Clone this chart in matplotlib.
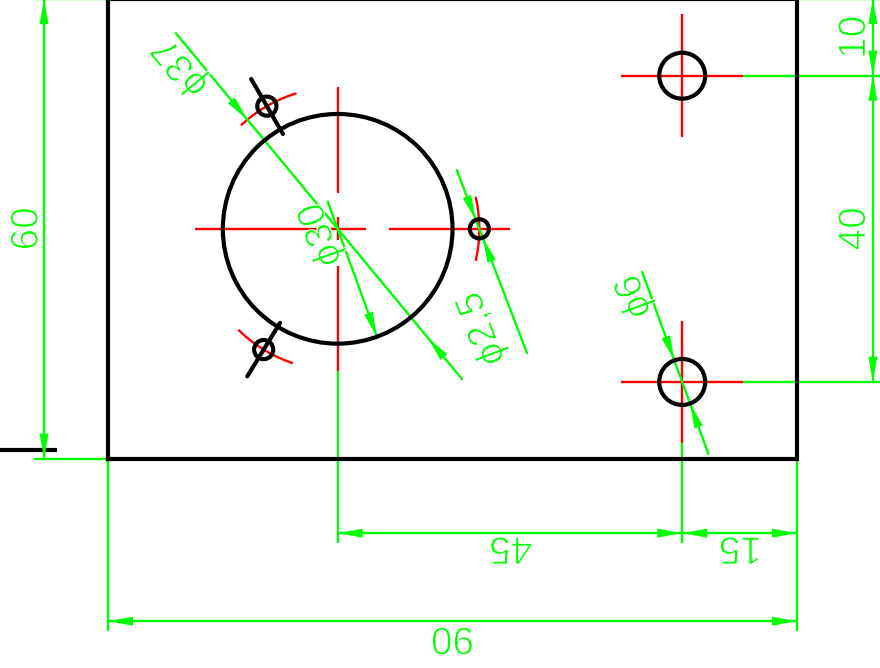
"""Sheet metal plate drawing with holes and dimensions (all sizes in drawing units)."""
import math
from matplotlib import pyplot as plt
from matplotlib import patheffects
from matplotlib.patches import Circle, Polygon

# plate size
plate_w = 90
plate_h = 60

# holes: large one, the two on the right, three small on the pitch circle
big_x, big_y, big_dia = 30, 30, 30
right_x = 75
right_y = [50, 10]
right_dia = 6
pitch_dia = 37
small_dia = 2.5
small_angles = [0, 120, 238.5]

# dimension texts
dim_texts = ["60", "10", "40", "45", "15", "90"]
dia_texts = ["ϕ37", "ϕ30", "ϕ2,5", "ϕ6"]

SCALE = 7.656
GREEN = "#00ff00"
RED = "#ff0000"
ARROW_LEN = 25 / SCALE
ARROW_W = 9 / SCALE

fig = plt.figure(figsize=(8.8, 6.68), dpi=100)
ax = fig.add_axes([0, 0, 1, 1])
ax.set_xlim(-108 / SCALE, 772 / SCALE)
ax.set_ylim(-209.5 / SCALE, 458.5 / SCALE)
ax.axis("off")


def line(x0, y0, x1, y1, color=GREEN, width=1.7):
    ax.plot([x0, x1], [y0, y1], color=color, lw=width, solid_capstyle="butt", zorder=3)


def arrow(tip_x, tip_y, angle):
    """Filled arrow head with the tip at the point, pointing along angle (degrees)."""
    a = math.radians(angle)
    ux, uy = math.cos(a), math.sin(a)
    bx, by = tip_x - ux * ARROW_LEN, tip_y - uy * ARROW_LEN
    pts = [(tip_x, tip_y),
           (bx - uy * ARROW_W / 2, by + ux * ARROW_W / 2),
           (bx + uy * ARROW_W / 2, by - ux * ARROW_W / 2)]
    ax.add_patch(Polygon(pts, closed=True, fc=GREEN, ec="none", zorder=4))


def label(x, y, s, rot):
    ax.text(x, y, s, rotation=rot, rotation_mode="anchor", ha="center", va="center",
            color=GREEN, fontsize=28, family=["Liberation Sans", "DejaVu Sans"], zorder=5,
            path_effects=[patheffects.Stroke(linewidth=0.8, foreground="white")])


def center_cross(cx, cy, half=8):
    line(cx - half, cy, cx + half, cy, RED)
    line(cx, cy - half, cx, cy + half, RED)


def polar(r, angle):
    a = math.radians(angle)
    return big_x + r * math.cos(a), big_y + r * math.sin(a)


# outline and the stub on the left
ax.plot([0, 0, plate_w, plate_w, 0], [0, plate_h, plate_h, 0, 0], color="black", lw=3,
        solid_joinstyle="miter", zorder=6)
line(-108 / SCALE, 1.1, -6.7, 1.1, "black", 3)

# holes
ax.add_patch(Circle((big_x, big_y), big_dia / 2, fill=False, ec="black", lw=3, zorder=6))
for y in right_y:
    ax.add_patch(Circle((right_x, y), right_dia / 2, fill=False, ec="black", lw=3, zorder=6))
    center_cross(right_x, y)
for ang in small_angles:
    sx, sy = polar(pitch_dia / 2, ang)
    ax.add_patch(Circle((sx, sy), small_dia / 2, fill=False, ec="black", lw=3, zorder=6))
    arc_pts = [polar(pitch_dia / 2, ang - 12.6 + i * 1.26) for i in range(21)]
    ax.plot([p[0] for p in arc_pts], [p[1] for p in arc_pts], color=RED, lw=1.7, zorder=3)

# small hole on the right has its own horizontal centre line
sx, sy = polar(pitch_dia / 2, 0)
line(sx - 11.85, sy, sx + 4, sy, RED)

# black radial marks at the other two small holes
for ang, r0 in zip(small_angles[1:], [14.3, 14.4]):
    p0 = polar(r0, ang)
    p1 = polar(22.6, ang)
    ax.plot([p0[0], p1[0]], [p0[1], p1[1]], color="black", lw=3, solid_capstyle="round", zorder=6)

# centre lines of the large hole, broken into dashes
line(big_x - 18.7, big_y, big_x - 2.75, big_y, RED)
line(big_x - 1.5, big_y, big_x + 3.65, big_y, RED)
line(big_x, big_y + 18.5, big_x, big_y + 4.7, RED)
line(big_x, big_y + 1.5, big_x, big_y - 1.5, RED)
line(big_x, big_y - 4.8, big_x, big_y - 18.6, RED)

# extension lines
line(-9.7, 0, 0, 0)
line(-9.7, plate_h, 0, plate_h)
line(plate_w, plate_h, 101, plate_h)
line(0, 0, 0, -22.5)
line(plate_w, 0, plate_w, -22.5)
line(big_x, big_y - 18.6, big_x, -11)
line(right_x, 2, right_x, -11)
for y in right_y:
    line(right_x + 8, y, 101, y)

# linear dimensions
dim_left = -8.35
dim_right = 99.9
dim_low = -9.75
dim_lowest = -21.25
line(dim_left, 0, dim_left, plate_h)
arrow(dim_left, plate_h, 90)
arrow(dim_left, 0, -90)
line(dim_right, right_y[0], dim_right, plate_h)
arrow(dim_right, plate_h, 90)
arrow(dim_right, right_y[0], -90)
line(dim_right, right_y[1], dim_right, right_y[0])
arrow(dim_right, right_y[0], 90)
arrow(dim_right, right_y[1], -90)
line(big_x, dim_low, plate_w, dim_low)
arrow(big_x, dim_low, 180)
arrow(right_x, dim_low, 0)
arrow(right_x, dim_low, 180)
arrow(plate_w, dim_low, 0)
line(0, dim_lowest, plate_w, dim_lowest)
arrow(0, dim_lowest, 180)
arrow(plate_w, dim_lowest, 0)

label(-10.5, 30, dim_texts[0], 90)
label(97.6, 55, dim_texts[1], 90)
label(97.6, 30, dim_texts[2], 90)
label(52.6, -11.6, dim_texts[3], 180)
label(82.6, -11.6, dim_texts[4], 180)
label(45, -23.4, dim_texts[5], 180)


def dia_dim(cx, cy, dia, angle, r_start, r_end, both=True):
    """Leader through a circle centre at angle; arrows end on the circle."""
    a = math.radians(angle)
    ux, uy = math.cos(a), math.sin(a)
    line(cx - ux * r_start, cy - uy * r_start, cx + ux * r_end, cy + uy * r_end)
    r = dia / 2
    if both:
        arrow(cx - ux * r, cy - uy * r, angle)
        arrow(cx + ux * r, cy + uy * r, angle + 180)
    else:
        arrow(cx + ux * r, cy + uy * r, angle)


dia_dim(big_x, big_y, pitch_dia, -50.4, 33.3, 25.6)
dia_dim(big_x, big_y, big_dia, -70, 3.9, big_dia / 2, both=False)
dia_dim(*polar(pitch_dia / 2, 0), small_dia, -69, 8.3, 17.5)
dia_dim(right_x, right_y[1], right_dia, -70, 15.4, 10.1)

label(9.6, 51.2, dia_texts[0], 129.6)
label(27.9, 29.25, dia_texts[1], 110)
label(48.9, 17.0, dia_texts[2], 111)
label(68.8, 21.2, dia_texts[3], 110)

fig.savefig("out.png", dpi=100, facecolor="white")
